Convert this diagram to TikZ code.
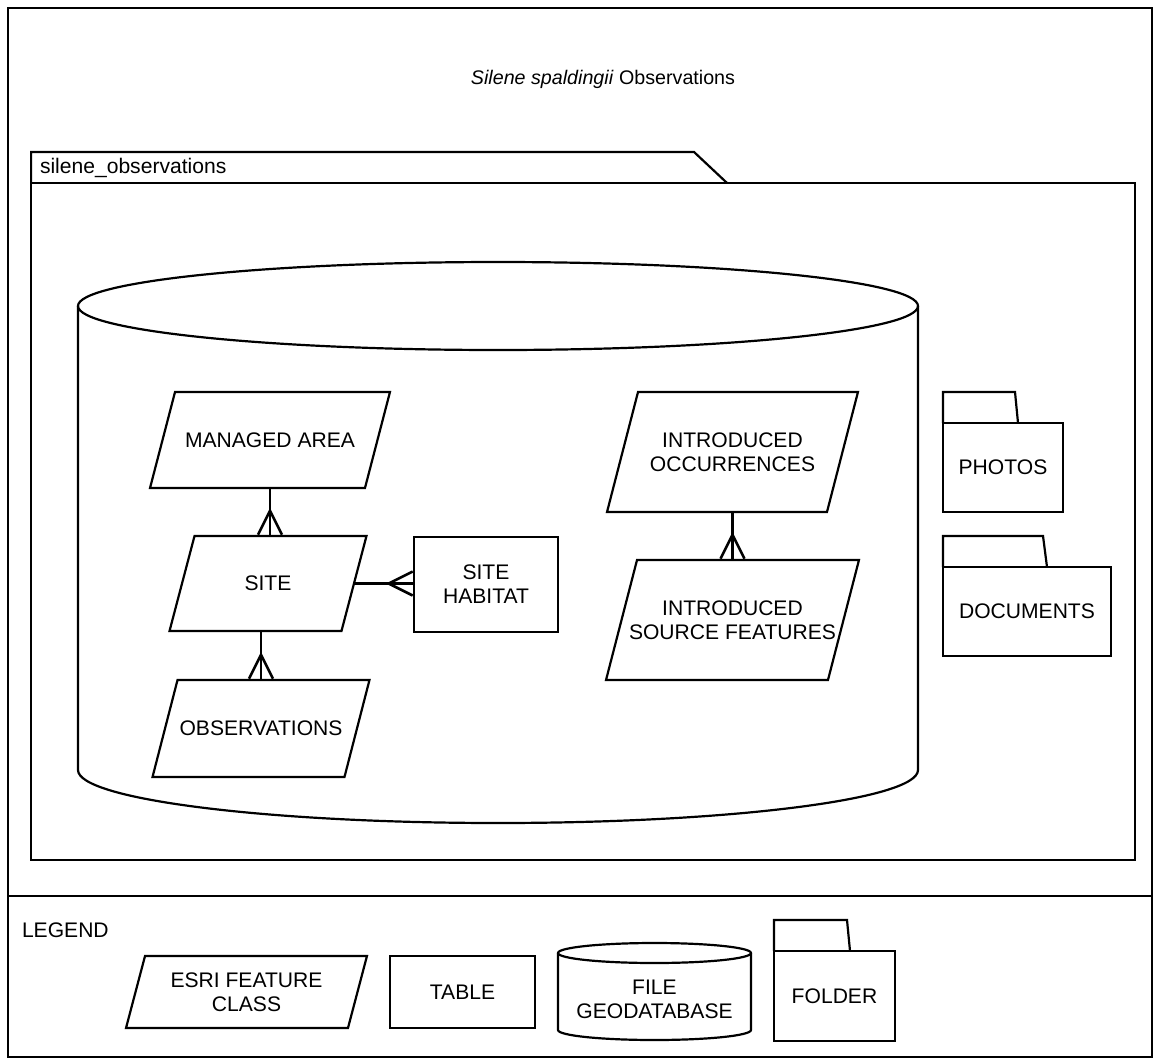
\documentclass[tikz,border=0pt]{standalone}
\usepackage{fontspec}
\setmainfont{Liberation Sans}
\usetikzlibrary{arrows.meta}

\begin{document}
\begin{tikzpicture}[x=0.02cm, y=-0.02cm, line width=1.25pt,
  every node/.style={font=\fontsize{12}{13.8}\selectfont, align=center, inner sep=0pt, outer sep=0pt},
  fclass/.style={rectangle},
  tbl/.style={draw, rectangle},
  crow/.style={line width=1.5pt, -{Straight Barb[reversed, length=0.48cm, width=0.48cm]}, postaction={draw, -}}]
\useasboundingbox (0,0) rectangle (1154,1059);
%\draw[step=50,gray,very thin] (0,0) grid (1154,1059); %background grid
\draw (8,8) rectangle (1152,1057);
\draw (8,896) -- (1152,896);
\node[font=\fontsize{11.2}{13.8}\selectfont] (title) at (603,79) {\textit{Silene spaldingii} Observations};
%---------------------------------------------------
\node[draw, minimum width=22.08cm, minimum height=13.54cm] (pkg) at (583,521.5) {};
\draw (pkg.north west) -- ++(0,-31) -- ++(663,0) -- ++(33,31);
\node[anchor=west] (pkgname) at (40,168) {silene\_observations};
%---------------------------------------------------
\draw (498,306) ellipse [x radius=420, y radius=44];
\draw (78,306) -- (78,770) arc [start angle=180, end angle=0, x radius=420, y radius=53] -- (918,306);
%---------------------------------------------------
\node[fclass, minimum width=4.8cm, minimum height=1.92cm] (ma) at (270,440) {MANAGED AREA};
\node[fclass, minimum width=3.94cm, minimum height=1.9cm] (site) at (268,583.5) {SITE};
\node[fclass, minimum width=4.34cm, minimum height=1.94cm] (obs) at (261,728.5) {OBSERVATIONS};
\node[tbl, minimum width=2.88cm, minimum height=1.9cm] (hab) at (486,584.5) {SITE\\HABITAT};
\node[fclass, minimum width=5.02cm, minimum height=2.4cm] (io) at (732.5,452) {INTRODUCED\\OCCURRENCES};
\node[fclass, minimum width=5.06cm, minimum height=2.4cm] (isf) at (732.5,620) {INTRODUCED\\SOURCE FEATURES};
%---------------------------------------------------
\draw[crow] (ma.south) -- (ma.south |- site.north);
\draw[crow] ([xshift=-0.25cm]site.east) -- (site.east -| hab.west);
\draw[crow] (obs.north |- site.south) -- (obs.north);
\draw[crow] (io.south) -- (isf.north);
%---------------------------------------------------
\node[draw, minimum width=2.4cm, minimum height=1.78cm] (photos) at (1003,467.5) {PHOTOS};
\draw (photos.north west) -- ++(0,-31) -- ++(72,0) -- ++(3,31);
\node[draw, minimum width=3.36cm, minimum height=1.78cm] (docs) at (1027,611.5) {DOCUMENTS};
\draw (docs.north west) -- ++(0,-31) -- ++(100,0) -- ++(4,31);
%---------------------------------------------------
\node[anchor=west] (legend) at (22,930) {LEGEND};
\node[fclass, minimum width=4.82cm, minimum height=1.44cm] (lfc) at (246.5,992) {ESRI FEATURE\\CLASS};
\node[tbl, minimum width=2.9cm, minimum height=1.44cm] (ltbl) at (462.5,992) {TABLE};
\draw (654.5,953) ellipse [x radius=96.5, y radius=10];
\draw (558,953) -- (558,1030) arc [start angle=180, end angle=0, x radius=96.5, y radius=10] -- (751,953);
\node (lgdb) at (654.5,999) {FILE\\GEODATABASE};
\node[draw, minimum width=2.42cm, minimum height=1.8cm] (lfold) at (834.5,996) {FOLDER};
\draw (lfold.north west) -- ++(0,-31) -- ++(73,0) -- ++(3,31);
%---------------------------------------------------
\foreach \n/\s in {ma/0.5, site/0.5, obs/0.5, io/0.62, isf/0.62, lfc/0.38}
  \draw ([xshift=\s cm]\n.north west) -- (\n.north east) -- ([xshift=-\s cm]\n.south east) -- (\n.south west) -- cycle;

\end{tikzpicture}
\end{document}
